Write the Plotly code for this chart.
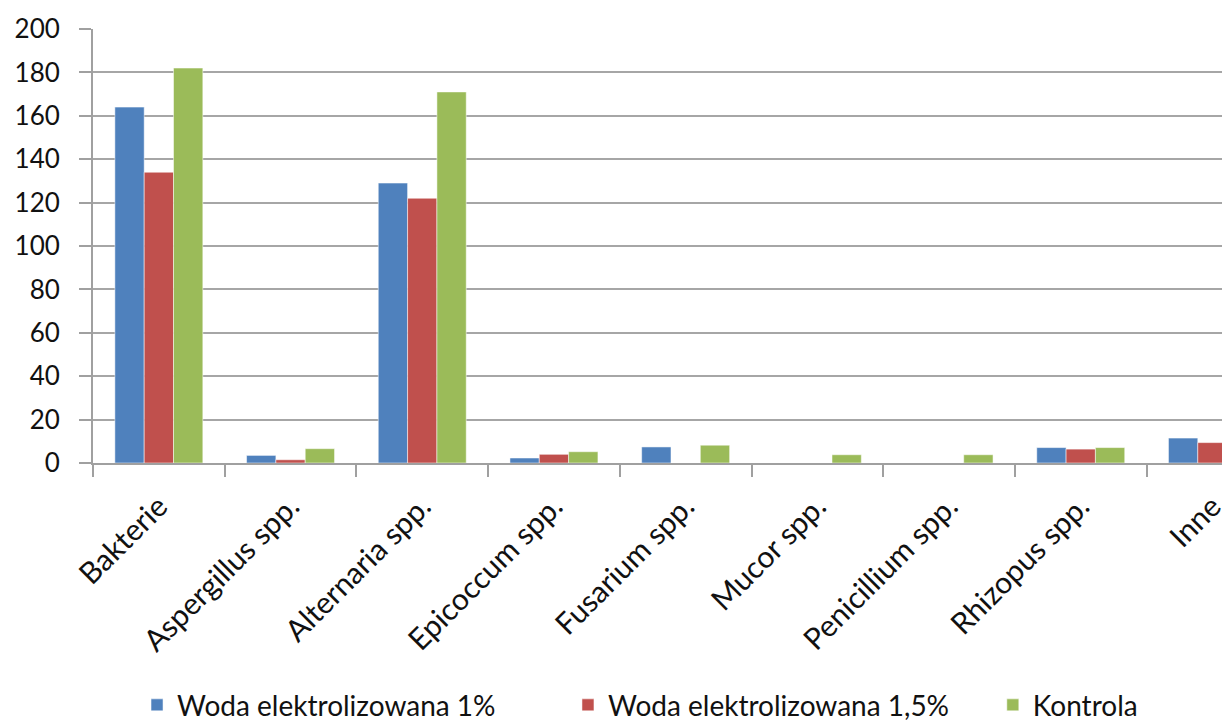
import plotly.graph_objects as go

categories = ["Bakterie", "Aspergillus spp.", "Alternaria spp.", "Epicoccum spp.",
              "Fusarium spp.", "Mucor spp.", "Penicillium spp.", "Rhizopus spp.", "Inne"]
series_names = ["Woda elektrolizowana 1%", "Woda elektrolizowana 1,5%", "Kontrola"]
woda_1 = [164, 3.5, 129, 2.3, 7.4, 0, 0, 7.1, 11.5]
woda_15 = [134, 1.5, 122, 4.0, 0, 0, 0, 6.4, 9.4]
kontrola = [182, 6.6, 171, 5.2, 8.2, 3.8, 3.8, 7.1, 10]
colors = ["#4F81BD", "#C0504D", "#9BBB59"]
y_ticks = list(range(0, 201, 20))
legend_x = [0.039, 0.4207, 0.797]

FONT = "Lato"
fig = go.Figure()
legend_ids = ["legend", "legend2", "legend3"]
for name, vals, col, lg in zip(series_names, [woda_1, woda_15, kontrola], colors, legend_ids):
    fig.add_trace(go.Bar(x=categories, y=vals, name=name, legend=lg,
                         marker=dict(color=col, line=dict(color="rgba(255,255,255,0.5)", width=1))))

legend_common = dict(orientation="h", xanchor="left", y=-0.558, yanchor="middle",
                     font=dict(size=28, family=FONT, color="#111111"), itemwidth=30,
                     bgcolor="rgba(0,0,0,0)")
fig.update_layout(
    width=1222, height=724,
    margin=dict(l=93, r=0, t=29, b=261, autoexpand=False),
    paper_bgcolor="white", plot_bgcolor="white",
    barmode="group", bargap=0.332, bargroupgap=0,
    font=dict(family=FONT, color="#111111"),
    showlegend=True,
    legend=dict(x=legend_x[0], **legend_common),
    legend2=dict(x=legend_x[1], **legend_common),
    legend3=dict(x=legend_x[2], **legend_common),
    xaxis=dict(range=[-0.5, -0.5 + (1222 - 93) / 131.7], type="category",
               tickangle=-45, tickfont=dict(size=30), showline=True, linecolor="#A0A0A0",
               linewidth=2, ticks="outside", tickson="boundaries", ticklen=12,
               tickcolor="#A0A0A0", tickwidth=2, showgrid=False, ticklabelstandoff=12),
    yaxis=dict(range=[0, 200], tickvals=y_ticks, tickfont=dict(size=26),
               showline=True, linecolor="#A0A0A0", linewidth=2, ticks="outside",
               ticklen=12, tickcolor="#A0A0A0", tickwidth=2,
               showgrid=True, gridcolor="#A6A6A6", gridwidth=2, zeroline=False,
               ticklabelstandoff=14),
)
fig.write_html("out.html")
